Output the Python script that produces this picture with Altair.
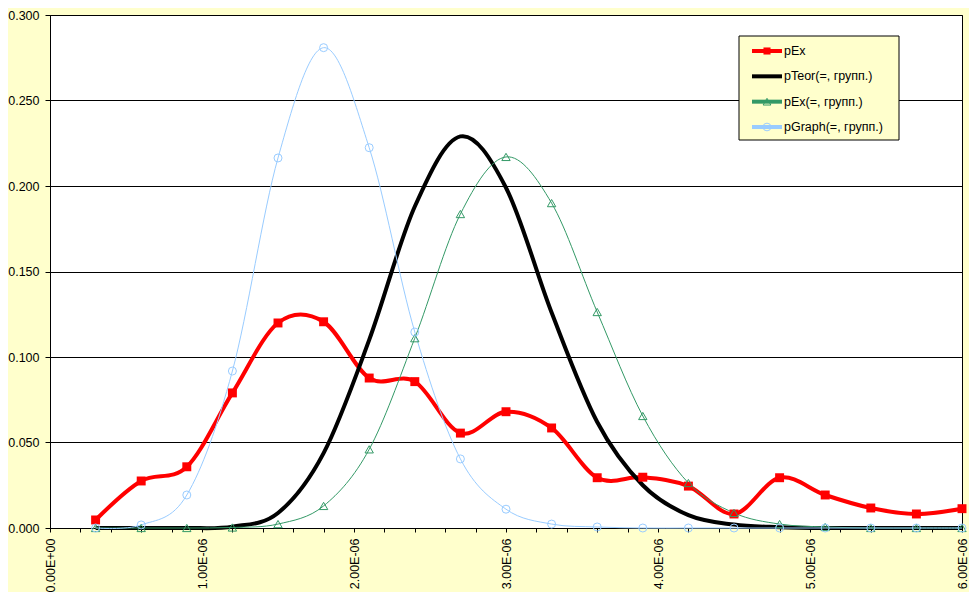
import json
import altair as alt
import pandas as pd

# ---- data ----
x_vals = [0.3e-6, 0.6e-6, 0.9e-6, 1.2e-6, 1.5e-6, 1.8e-6, 2.1e-6, 2.4e-6, 2.7e-6, 3.0e-6,
          3.3e-6, 3.6e-6, 3.9e-6, 4.2e-6, 4.5e-6, 4.8e-6, 5.1e-6, 5.4e-6, 5.7e-6, 6.0e-6]

p_ex = [0.0047, 0.0275, 0.0358, 0.0790, 0.1199, 0.1206, 0.0877, 0.0856, 0.0555, 0.0680,
        0.0585, 0.0294, 0.0297, 0.0245, 0.0082, 0.0294, 0.0193, 0.0117, 0.0082, 0.0113]

p_teor = [0.0000, 0.0000, 0.0000, 0.0008, 0.0088, 0.0438, 0.1100, 0.1880, 0.2290, 0.1990,
          0.1260, 0.0620, 0.0250, 0.0075, 0.0020, 0.0005, 0.0000, 0.0000, 0.0000, 0.0000]

p_ex_grp = [0.0000, 0.0000, 0.0000, 0.0003, 0.0023, 0.0129, 0.0460, 0.1110, 0.1836, 0.2170,
            0.1900, 0.1263, 0.0655, 0.0263, 0.0088, 0.0023, 0.0006, 0.0000, 0.0000, 0.0000]

p_graph = [0.0000, 0.0018, 0.0193, 0.0918, 0.2164, 0.2809, 0.2224, 0.1146, 0.0404, 0.0110,
           0.0023, 0.0006, 0.0000, 0.0000, 0.0000, 0.0000, 0.0000, 0.0000, 0.0000, 0.0000]

series_names = ["pEx", "pTeor(=, групп.)", "pEx(=, групп.)", "pGraph(=, групп.)"]
series_values = [p_ex, p_teor, p_ex_grp, p_graph]

x_ticks = [0.0, 0.2e-6, 0.4e-6, 0.6e-6, 0.8e-6, 1.0e-6, 1.2e-6, 1.4e-6, 1.6e-6, 1.8e-6,
           2.0e-6, 2.2e-6, 2.4e-6, 2.6e-6, 2.8e-6, 3.0e-6, 3.2e-6, 3.4e-6, 3.6e-6, 3.8e-6,
           4.0e-6, 4.2e-6, 4.4e-6, 4.6e-6, 4.8e-6, 5.0e-6, 5.2e-6, 5.4e-6, 5.6e-6, 5.8e-6, 6.0e-6]
x_labels = ["0.00E+00", "1.00E-06", "2.00E-06", "3.00E-06", "4.00E-06", "5.00E-06", "6.00E-06"]
y_ticks = [0.0, 0.05, 0.10, 0.15, 0.20, 0.25, 0.30]

# ---- styles ----
colors = ["#FF0000", "#000000", "#339966", "#99CCFF"]
widths = [4, 4, 1, 1]
shapes = ["square", None, "triangle-up", "circle"]
filled = [True, False, False, False]
msizes = [80, 0, 70, 64]
FONT = "Liberation Sans"

frames = {n: pd.DataFrame({"x": x_vals, "y": v, "name": n}) for n, v in zip(series_names, series_values)}

label_expr = (
    "abs(datum.value*1e6 - round(datum.value*1e6)) < 0.001 ? "
    + json.dumps(x_labels) + "[round(datum.value*1e6)] : ''"
)

x_enc = alt.X(
    "x:Q",
    scale=alt.Scale(domain=[0, 6e-6], nice=False, zero=False),
    axis=alt.Axis(values=x_ticks, labelExpr=label_expr, labelAngle=270, labelAlign="right",
                  labelBaseline="middle", tickSize=4, labelPadding=6, labelOverlap=False,
                  labelFlush=False, grid=False, title=None),
)
y_enc = alt.Y(
    "y:Q",
    scale=alt.Scale(domain=[0, 0.3], nice=False),
    axis=alt.Axis(values=y_ticks, format=".3f", tickSize=5, labelPadding=6, grid=True,
                  title=None),
)

layers = []
for i, n in enumerate(series_names):
    base = alt.Chart(frames[n])
    layers.append(
        base.mark_line(interpolate="cardinal", color=colors[i], strokeWidth=widths[i])
        .encode(x=x_enc, y=y_enc)
    )
for i, n in enumerate(series_names):
    if shapes[i] is None:
        continue
    base = alt.Chart(frames[n])
    if filled[i]:
        pm = base.mark_point(shape=shapes[i], filled=True, color=colors[i], size=msizes[i], opacity=1)
    else:
        pm = base.mark_point(shape=shapes[i], filled=False, color=colors[i], size=msizes[i],
                             strokeWidth=1, opacity=1)
    layers.append(pm.encode(x=x_enc, y=y_enc))

data_layer = alt.layer(*layers)

# ---- legend (built as marks) ----
leg_df = pd.DataFrame({"name": series_names, "i": list(range(len(series_names)))})
leg_y = alt.Y("i:Q", scale=alt.Scale(domain=[0, 3], range=[36, 112]), axis=None)
leg_color = alt.Color("name:N", scale=alt.Scale(domain=series_names, range=colors), legend=None)

leg_box = alt.Chart(pd.DataFrame({"a": [0]})).mark_rect(
    fill="#FFFFCC", stroke="black", strokeWidth=1
).encode(x=alt.value(689), x2=alt.value(849), y=alt.value(21), y2=alt.value(125))

leg_lines = alt.Chart(leg_df).mark_rule().encode(
    x=alt.value(702), x2=alt.value(732), y=leg_y, color=leg_color,
    strokeWidth=alt.StrokeWidth("name:N", scale=alt.Scale(domain=series_names, range=widths),
                                legend=None),
)
leg_pts = []
for i, n in enumerate(series_names):
    if shapes[i] is None:
        continue
    d = leg_df[leg_df["name"] == n]
    if filled[i]:
        m = alt.Chart(d).mark_point(shape=shapes[i], filled=True, color=colors[i], size=50, opacity=1)
    else:
        m = alt.Chart(d).mark_point(shape=shapes[i], filled=False, color=colors[i], size=60,
                                    strokeWidth=1, opacity=1)
    leg_pts.append(m.encode(x=alt.value(717), y=leg_y))

leg_text = alt.Chart(leg_df).mark_text(
    align="left", baseline="middle", font=FONT, fontSize=12.5, color="black"
).encode(x=alt.value(734), y=leg_y, text="name:N")

legend_layer = alt.layer(leg_box, leg_lines, *leg_pts, leg_text)

chart = (
    alt.layer(data_layer, legend_layer)
    .resolve_scale(y="independent", color="independent")
    .properties(
        width=912, height=513, background="#FFFFCC",
        autosize=alt.AutoSizeParams(type="none"),
        padding={"left": 42, "top": 7, "right": 7, "bottom": 64},
    )
    .configure_view(fill="white", stroke="black", strokeWidth=1)
    .configure_axis(
        labelFont=FONT, labelFontSize=12.5, labelColor="black",
        domainColor="black", domainWidth=1, tickColor="black", tickWidth=1,
        gridColor="black", gridOpacity=1, gridWidth=1,
    )
)

chart.save("out.html", embed_options={"renderer": "svg", "actions": False})
